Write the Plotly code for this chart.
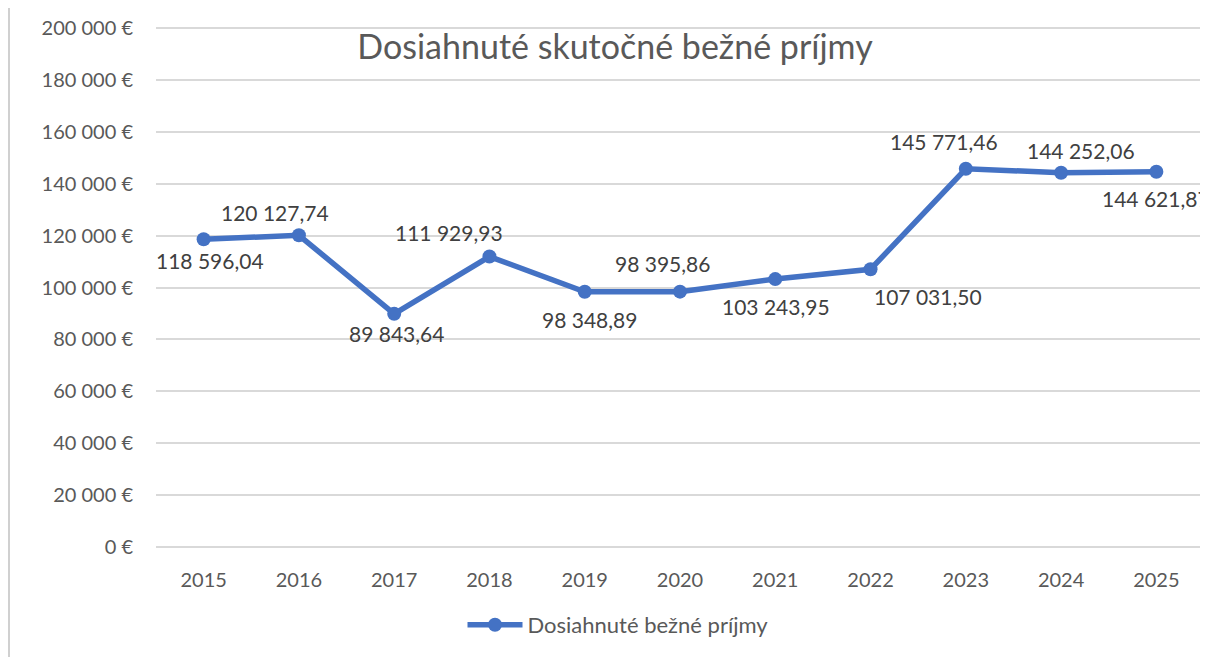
import plotly.graph_objects as go

years = ["2015", "2016", "2017", "2018", "2019", "2020", "2021", "2022", "2023", "2024", "2025"]
values = [118596.04, 120127.74, 89843.64, 111929.93, 98348.89, 98395.86,
          103243.95, 107031.50, 145771.46, 144252.06, 144621.87]
labels = ["118 596,04", "120 127,74", "89 843,64", "111 929,93", "98 348,89", "98 395,86",
          "103 243,95", "107 031,50", "145 771,46", "144 252,06", "144 621,87"]
y_ticks = [0, 20000, 40000, 60000, 80000, 100000, 120000, 140000, 160000, 180000, 200000]
y_tick_text = ["0 €", "20 000 €", "40 000 €", "60 000 €", "80 000 €", "100 000 €",
               "120 000 €", "140 000 €", "160 000 €", "180 000 €", "200 000 €"]
series_name = "Dosiahnuté bežné príjmy"
title_text = "Dosiahnuté skutočné bežné príjmy"

# label offsets in pixels (dx right, dy down)
label_offsets = [(6, 21), (-24, -23), (2, 20), (-40, -24), (5, 28), (-18, -28),
                 (1, 27), (57, 27), (-22, -27), (20, -22), (0, 27)]

FONT = "Lato, 'Open Sans', sans-serif"
OFF = 8  # page body margin
W, H = 1208 - OFF, 657 - OFF
# plot area on page: x 156..1204, y 27..548 (range padded so edge gridlines show)
L, R, T, B = 156 - OFF, 4, 27 - OFF, H - (548 - OFF)

fig = go.Figure()
fig.add_trace(go.Scatter(
    x=years, y=values, mode="lines+markers", name=series_name,
    line=dict(color="#4472C4", width=5.5),
    marker=dict(color="#4472C4", size=14),
    cliponaxis=False,
))

for i, (v, lab, (dx, dy)) in enumerate(zip(values, labels, label_offsets)):
    fig.add_annotation(x=i, y=v, xref="x", yref="y", text=lab, showarrow=False,
                       xshift=dx, yshift=-dy,
                       font=dict(family=FONT, size=21, color="#404040"))

pw = W - L - R
ph = H - T - B
# chart frame decoration (left gray border)
xb = (9 - OFF - L) / pw
fig.add_shape(type="line", xref="paper", yref="paper",
              x0=xb, x1=xb, y0=(H - T) / ph + 0.02, y1=-B / ph - 0.02,
              line=dict(color="#D0D0D0", width=2))

fig.update_layout(
    width=W, height=H,
    margin=dict(l=L, r=R, t=T, b=B),
    paper_bgcolor="white", plot_bgcolor="white",
    font=dict(family=FONT, color="#595959"),
    title=dict(text=title_text, x=(615 - OFF) / W, xref="container", xanchor="center",
               y=1 - (47 - OFF) / H, yref="container", yanchor="middle",
               font=dict(family=FONT, size=34, color="#595959")),
    showlegend=True,
    legend=dict(orientation="h", xref="container", x=(618 - OFF) / W, xanchor="center",
                yref="container", y=1 - (625 - OFF) / H, yanchor="middle",
                itemwidth=55,
                font=dict(family=FONT, size=22, color="#595959")),
    xaxis=dict(type="category", range=[-0.5, 10.5], showgrid=False, zeroline=False,
               showline=False, ticks="", ticklabelstandoff=18,
               tickfont=dict(family=FONT, size=20, color="#595959")),
    yaxis=dict(range=[-400, 200400], tickvals=y_ticks, ticktext=y_tick_text,
               showgrid=True, gridcolor="#D9D9D9", gridwidth=1.5, zeroline=False,
               showline=False, ticks="", ticklabelstandoff=22,
               tickfont=dict(family=FONT, size=20, color="#595959")),
)

fig.write_html("out.html")
